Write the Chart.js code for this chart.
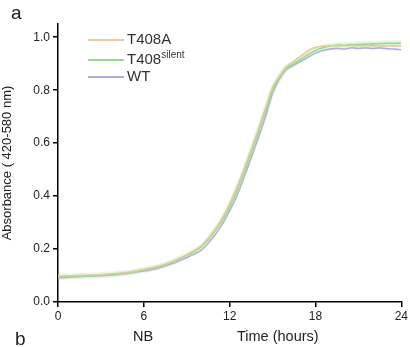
<!DOCTYPE html>
<html>
<head>
<meta charset="utf-8">
<script src="https://cdn.jsdelivr.net/npm/chart.js@4"></script>
<style>
  body { margin: 0; background: #fff; font-family: "Liberation Sans", Arial, sans-serif; }
  #wrap { position: relative; width: 410px; height: 347px; overflow: hidden; }
  .lbl { position: absolute; color: #222; white-space: nowrap; }
  .leg { position: absolute; left: 88px; font-size: 15px; color: #333; }
  .leg span.ln { display: inline-block; width: 36px; height: 2px; vertical-align: middle; margin-right: 3px; }
  .leg sup { font-size: 10px; }
</style>
</head>
<body>
<div id="wrap">
  <canvas id="myChart" width="410" height="347"></canvas>
  <div class="lbl" style="left:11px;top:2px;font-size:19px;">a</div>
  <div class="lbl" style="left:15px;top:328px;font-size:19px;">b</div>
  <div class="lbl" style="left:133px;top:328px;font-size:14.5px;">NB</div>
  <div class="lbl" style="left:237px;top:328px;font-size:14.5px;">Time (hours)</div>
  <div class="leg" style="top:30px;"><span class="ln" style="background:#f8c49c"></span>T408A</div>
  <div class="leg" style="top:49px;"><span class="ln" style="background:#97da8e"></span>T408<sup>silent</sup></div>
  <div class="leg" style="top:67px;"><span class="ln" style="background:#b8a9e6"></span>WT</div>
</div>
<script>
// time points (hours), every half hour
let hours = [];
for (let i = 0; i <= 48; i++) hours.push(i / 2);

let t408a = [0.097, 0.098, 0.099, 0.100, 0.101, 0.102, 0.103, 0.105, 0.107, 0.110, 0.113, 0.118, 0.123,
  0.128, 0.135, 0.143, 0.153, 0.165, 0.178, 0.193, 0.210, 0.240, 0.275, 0.318, 0.370, 0.430, 0.500,
  0.575, 0.650, 0.730, 0.810, 0.855, 0.890, 0.910, 0.930, 0.950, 0.962, 0.966, 0.967, 0.968, 0.968,
  0.969, 0.968, 0.969, 0.968, 0.968, 0.967, 0.967, 0.967];
let t408silent = [0.095, 0.096, 0.097, 0.098, 0.099, 0.100, 0.101, 0.103, 0.105, 0.108, 0.111, 0.116, 0.121,
  0.126, 0.133, 0.141, 0.151, 0.163, 0.176, 0.190, 0.207, 0.235, 0.270, 0.310, 0.360, 0.420, 0.490,
  0.565, 0.640, 0.720, 0.800, 0.850, 0.885, 0.900, 0.918, 0.935, 0.950, 0.960, 0.967, 0.970, 0.970,
  0.972, 0.973, 0.974, 0.975, 0.976, 0.977, 0.977, 0.978];
let wt = [0.092, 0.093, 0.095, 0.096, 0.097, 0.098, 0.099, 0.101, 0.103, 0.106, 0.109, 0.113, 0.117,
  0.122, 0.128, 0.136, 0.145, 0.156, 0.168, 0.180, 0.195, 0.222, 0.255, 0.295, 0.345, 0.400, 0.470,
  0.545, 0.620, 0.700, 0.790, 0.845, 0.880, 0.895, 0.910, 0.925, 0.940, 0.950, 0.955, 0.958, 0.955,
  0.960, 0.958, 0.960, 0.958, 0.960, 0.957, 0.955, 0.953];

let xTicks = [0, 6, 12, 18, 24];
let yTicks = [0, 0.2, 0.4, 0.6, 0.8, 1.0];

let orangeColor = '#f8c49c';
let greenColor = '#97da8e';
let greenBand = 'rgba(151, 218, 142, 0.25)';
let purpleColor = '#b8a9e6';

function pts(ys) {
  return hours.map((h, i) => ({ x: h, y: ys[i] }));
}

const tickFont = { family: 'Liberation Sans', size: 12 };

new Chart(document.getElementById('myChart').getContext('2d'), {
  type: 'line',
  data: {
    datasets: [
      { label: 'band', data: pts(t408silent), borderColor: greenBand, borderWidth: 6, pointRadius: 0, tension: 0.2 },
      { label: 'T408A', data: pts(t408a), borderColor: orangeColor, borderWidth: 1.6, pointRadius: 0, tension: 0.2 },
      { label: 'T408silent', data: pts(t408silent), borderColor: greenColor, borderWidth: 1.6, pointRadius: 0, tension: 0.2 },
      { label: 'WT', data: pts(wt), borderColor: purpleColor, borderWidth: 1.6, pointRadius: 0, tension: 0.2 }
    ]
  },
  options: {
    responsive: false,
    animation: false,
    layout: { padding: { left: 0, right: 7, top: 24, bottom: 0 } },
    plugins: { legend: { display: false }, tooltip: { enabled: false } },
    scales: {
      x: {
        type: 'linear',
        min: 0,
        max: 24,
        afterBuildTicks: s => { s.ticks = xTicks.map(v => ({ value: v })); },
        afterFit: s => { s.height = 45; },
        border: { color: '#000', width: 1.5 },
        grid: { drawOnChartArea: false, color: '#000', tickLength: 5, lineWidth: 1.5 },
        ticks: { color: '#222', font: tickFont, padding: 2 }
      },
      y: {
        min: 0,
        max: 1.05,
        afterBuildTicks: s => { s.ticks = yTicks.map(v => ({ value: v })); },
        afterFit: s => { s.width = 58; },
        border: { color: '#000', width: 1.5 },
        grid: { drawOnChartArea: false, color: '#000', tickLength: 5, lineWidth: 1.5 },
        ticks: { color: '#222', font: tickFont, padding: 3, callback: v => v.toFixed(1) },
        title: {
          display: true,
          text: 'Absorbance ( 420-580 nm)',
          color: '#222',
          font: { family: 'Liberation Sans', size: 13 },
          padding: { top: 0, bottom: 1 }
        }
      }
    }
  }
});
</script>
</body>
</html>
